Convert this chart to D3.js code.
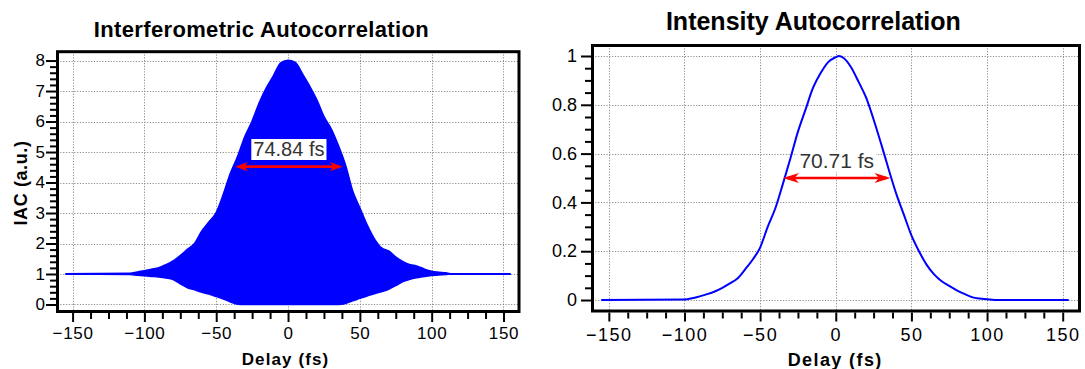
<!DOCTYPE html>
<html><head><meta charset="utf-8">
<script src="https://cdn.jsdelivr.net/npm/d3@7"></script>
<style>
html,body{margin:0;padding:0;background:#fff;}
svg{display:block;font-family:"Liberation Sans",Arial,sans-serif;}
</style></head>
<body>
<svg id="c" width="1085" height="369"></svg>
<script>
// ---------- data ----------
const iacDelay = [-155,-110,-105,-100,-95,-90,-85,-80,-75,-70,-65,-60,-55,-50,-45,-40,-35,-30,-25,-20,-15,-10,-5,0,5,10,15,20,25,30,35,40,45,50,55,60,65,70,75,80,85,90,95,100,105,110,113,155];
const iacUpper = [1,1.02,1.06,1.1,1.15,1.2,1.3,1.42,1.6,1.8,2.0,2.4,2.7,3.0,3.6,4.3,4.85,5.5,6.0,6.6,7.1,7.5,7.92,8.0,7.93,7.55,7.15,6.7,6.15,5.75,5.2,4.55,3.7,3.15,2.6,2.15,1.85,1.75,1.55,1.4,1.3,1.25,1.15,1.08,1.05,1.03,1,1];
const iacLower = [1,0.98,0.96,0.94,0.92,0.9,0.87,0.82,0.68,0.55,0.48,0.4,0.34,0.26,0.18,0.08,0.01,0,0,0,0,0,0,0,0,0,0,0,0,0,0,0.03,0.12,0.2,0.28,0.35,0.42,0.5,0.62,0.75,0.83,0.88,0.92,0.95,0.97,0.98,1,1];
const iacFwhm = [-36.9, 38.1];
const iacHalf = 4.52;
const iacLabel = "74.84 fs";

const iaDelay = [-155,-100,-95,-90,-85,-80,-75,-70,-65,-60,-55,-50,-45,-40,-35,-30,-25,-20,-15,-10,-5,0,2,5,10,15,20,25,30,35,40,45,50,55,60,65,70,75,80,85,90,95,100,105,154];
const iaValue = [0,0.002,0.007,0.015,0.024,0.035,0.05,0.068,0.088,0.125,0.165,0.215,0.3,0.375,0.475,0.58,0.69,0.78,0.87,0.93,0.975,0.995,1.0,0.993,0.955,0.895,0.83,0.74,0.64,0.535,0.435,0.35,0.265,0.2,0.145,0.105,0.077,0.058,0.04,0.025,0.012,0.006,0.003,0,0];
const iaFwhm = [-34.9, 36.2];
const iaHalf = 0.5;
const iaLabel = "70.71 fs";

const xTicks = [-150,-100,-50,0,50,100,150];
const iacYTicks = [0,1,2,3,4,5,6,7,8];
const iaYTicks = [0,0.2,0.4,0.6,0.8,1];

// ---------- setup ----------
const svg = d3.select("#c");
const BLUE = "#0000ff", RED = "#ff0000";

function panel(o){
  const g = svg.append("g");
  const x = o.x, y = o.y;
  const [X0,X1] = x.range(), [Y1,Y0] = y.range();
  // grid
  const grid = g.append("g").attr("stroke","#8c8c8c").attr("stroke-width",1).attr("stroke-dasharray","1.2,1.6");
  grid.selectAll(".gx").data(o.xTicks).join("line")
    .attr("x1",d=>Math.round(x(d))+0.5).attr("x2",d=>Math.round(x(d))+0.5).attr("y1",Y0).attr("y2",Y1);
  grid.selectAll(".gy").data(o.yTicks).join("line")
    .attr("y1",d=>Math.round(y(d))+0.5).attr("y2",d=>Math.round(y(d))+0.5).attr("x1",X0).attr("x2",X1);
  // data
  o.draw(g);
  // frame
  g.append("rect").attr("x",X0).attr("y",Y0).attr("width",X1-X0).attr("height",Y1-Y0)
    .attr("fill","none").attr("stroke","#000").attr("stroke-width",3);
  // y axis
  const ya = g.append("g").attr("transform",`translate(${X0-1.5},0)`)
    .call(d3.axisLeft(y).tickValues(o.yTicks).tickSize(10).tickPadding(o.yPad).tickFormat(o.yFmt));
  ya.select(".domain").remove();
  ya.selectAll("line").attr("stroke","#000").attr("stroke-width",2);
  ya.selectAll("text").attr("font-size",o.yFs).attr("fill","#000").attr("font-family","Liberation Sans, Arial, sans-serif");
  const ym = g.append("g").attr("transform",`translate(${X0-1.5},0)`)
    .call(d3.axisLeft(y).tickValues(o.yMinor).tickSize(6).tickFormat(""));
  ym.select(".domain").remove();
  ym.selectAll("line").attr("stroke","#000").attr("stroke-width",2);
  // x axis
  const xa = g.append("g").attr("transform",`translate(0,${Y1+1.5})`)
    .call(d3.axisBottom(x).tickValues(o.xTicks).tickSize(9).tickPadding(o.xPad).tickFormat(d3.format("d")));
  xa.select(".domain").remove();
  xa.selectAll("line").attr("stroke","#000").attr("stroke-width",2);
  xa.selectAll("text").attr("font-size",o.xFs).attr("fill","#000").attr("letter-spacing",o.xLs)
    .attr("font-family","Liberation Sans, Arial, sans-serif");
  const xm = g.append("g").attr("transform",`translate(0,${Y1+1.5})`)
    .call(d3.axisBottom(x).tickValues(o.xMinor).tickSize(6).tickFormat(""));
  xm.select(".domain").remove();
  xm.selectAll("line").attr("stroke","#000").attr("stroke-width",2);
  // titles
  g.append("text").attr("x",o.title[1]).attr("y",o.title[2]).attr("text-anchor","middle")
    .attr("font-weight","bold").attr("font-size",o.title[3]).attr("letter-spacing",o.title[4]).text(o.title[0]);
  g.append("text").attr("x",o.xTitle[1]).attr("y",o.xTitle[2]).attr("text-anchor","middle")
    .attr("font-weight","bold").attr("font-size",o.xTitle[3]).attr("letter-spacing",o.xTitle[4]).text(o.xTitle[0]);
  // FWHM arrow + label
  const ay = y(o.half), ax0 = x(o.fwhm[0]), ax1 = x(o.fwhm[1]);
  const hl = o.head[0], hh = o.head[1];
  g.append("line").attr("x1",ax0+4).attr("x2",ax1-4).attr("y1",ay).attr("y2",ay).attr("stroke",RED).attr("stroke-width",2.7);
  g.append("path").attr("fill",RED)
    .attr("d",`M${ax0},${ay}L${ax0+hl},${ay-hh}L${ax0+hl*0.72},${ay}L${ax0+hl},${ay+hh}Z`);
  g.append("path").attr("fill",RED)
    .attr("d",`M${ax1},${ay}L${ax1-hl},${ay-hh}L${ax1-hl*0.72},${ay}L${ax1-hl},${ay+hh}Z`);
  const cx = x((o.fwhm[0]+o.fwhm[1])/2);
  const lab = g.append("g");
  const lr = lab.append("rect").attr("fill","#fff");
  const lt = lab.append("text").attr("x",cx).attr("y",o.lab[0]).attr("text-anchor","middle")
    .attr("font-size",o.lab[1]).attr("fill","#333").text(o.label);
  const bb = lt.node().getBBox();
  lr.attr("x",bb.x-2).attr("y",bb.y+1).attr("width",bb.width+4).attr("height",bb.height-1);
  return g;
}

// ---------- left: IAC ----------
const xL = d3.scaleLinear().domain([-160.5,160.8]).range([57.5,519]);
const yL = d3.scaleLinear().domain([-0.23,8.29]).range([311.5,51.7]);
const iacData = iacDelay.map((t,i)=>({t, hi:iacUpper[i], lo:iacLower[i]}));

panel({
  x:xL, y:yL, xTicks, yTicks:iacYTicks,
  yMinor:d3.range(0,40).map(i=>i*0.2).filter(v=>Math.abs(v-Math.round(v))>1e-6),
  xMinor:d3.range(-150,151,12.5).filter(v=>v%50!==0),
  yFmt:d3.format("d"), yPad:1, yFs:17, xPad:5, xFs:17, xLs:0.7,
  title:["Interferometric Autocorrelation",261.4,37.4,22,0.35],
  xTitle:["Delay (fs)",285.5,365,17,1.1],
  fwhm:iacFwhm, half:iacHalf, head:[13,4.6], label:iacLabel, lab:[156,20],
  draw:g=>{
    g.append("path").datum(iacData).attr("fill",BLUE)
      .attr("d",d3.area().x(d=>xL(d.t)).y0(d=>yL(d.lo)).y1(d=>yL(d.hi)).curve(d3.curveMonotoneX));
    g.append("path").datum(iacData).attr("fill","none").attr("stroke",BLUE).attr("stroke-width",2)
      .attr("d",d3.line().x(d=>xL(d.t)).y(d=>yL(d.hi)).curve(d3.curveMonotoneX));
    g.append("path").datum(iacData).attr("fill","none").attr("stroke",BLUE).attr("stroke-width",1.5)
      .attr("d",d3.line().x(d=>xL(d.t)).y(d=>yL(d.lo)).curve(d3.curveMonotoneX));
  }
});
svg.append("text").attr("transform","translate(26.5,183) rotate(-90)").attr("text-anchor","middle")
  .attr("font-weight","bold").attr("font-size",18).attr("letter-spacing",0.6).text("IAC (a.u.)");

// ---------- right: Intensity AC ----------
const xR = d3.scaleLinear().domain([-160.8,161.1]).range([592.5,1079.5]);
const yR = d3.scaleLinear().domain([-0.045,1.043]).range([311,45.5]);
const iaData = iaDelay.map((t,i)=>({t, v:iaValue[i]}));

panel({
  x:xR, y:yR, xTicks, yTicks:iaYTicks,
  yMinor:d3.range(0,21).map(i=>i*0.05).filter(v=>Math.abs(v*5-Math.round(v*5))>1e-6),
  xMinor:d3.range(-150,151,12.5).filter(v=>v%50!==0),
  yFmt:d=>d3.format("")(+d.toFixed(1)), yPad:4, yFs:18, xPad:7, xFs:18, xLs:1.5,
  title:["Intensity Autocorrelation",813.4,29.7,25,0],
  xTitle:["Delay (fs)",835.2,366,18,1.4],
  fwhm:iaFwhm, half:iaHalf, head:[16,5], label:iaLabel, lab:[168,21],
  draw:g=>{
    g.append("path").datum(iaData).attr("fill","none").attr("stroke",BLUE).attr("stroke-width",2)
      .attr("d",d3.line().x(d=>xR(d.t)).y(d=>yR(d.v)).curve(d3.curveMonotoneX));
  }
});
</script>
</body></html>
